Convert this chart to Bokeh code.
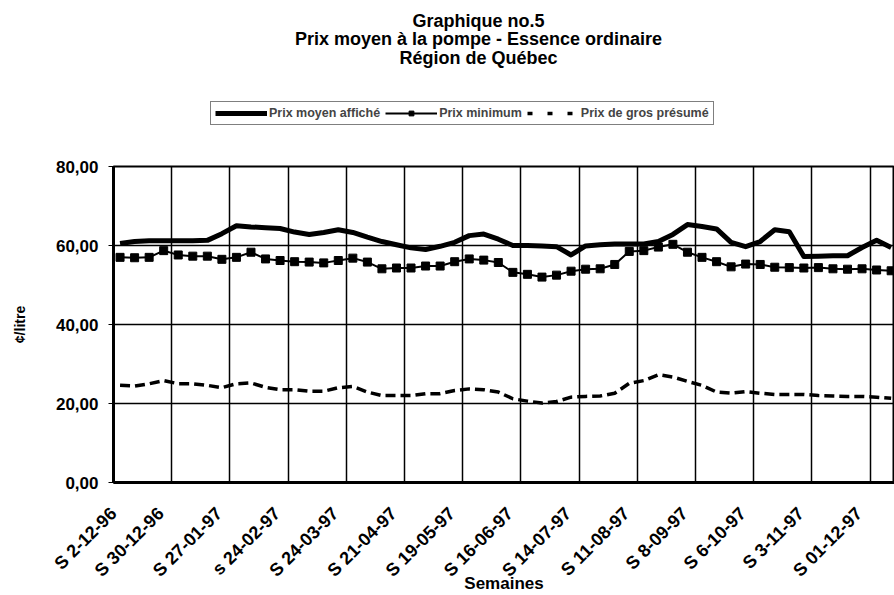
import math
from bokeh.plotting import figure
from bokeh.layouts import column
from bokeh.models import (Range1d, FixedTicker, Legend, LegendItem, Label)
from bokeh.embed import file_html
from bokeh.resources import INLINE

# ---- data (weekly, starting week of 2-12-96) ----
prix_moyen = [60.5, 61.0, 61.2, 61.2, 61.2, 61.2, 61.3, 63.0, 65.0, 64.7,
              64.5, 64.3, 63.4, 62.8, 63.3, 64.0, 63.3, 62.1, 61.0, 60.2,
              59.4, 59.0, 59.8, 60.8, 62.5, 62.9, 61.6, 60.0, 60.0, 59.9,
              59.7, 57.6, 59.9, 60.2, 60.4, 60.4, 60.4, 61.0, 62.8, 65.3,
              64.8, 64.2, 60.8, 59.7, 61.0, 64.0, 63.5, 57.2, 57.3, 57.4,
              57.4, 59.5, 61.3, 59.5]
prix_minimum = [57.0, 56.9, 57.0, 58.7, 57.6, 57.3, 57.3, 56.5, 57.0, 58.3,
                56.6, 56.2, 55.9, 55.8, 55.6, 56.2, 56.8, 55.8, 54.1, 54.3,
                54.3, 54.8, 54.8, 55.9, 56.6, 56.3, 55.7, 53.2, 52.7, 52.0,
                52.5, 53.5, 54.0, 54.1, 55.2, 58.5, 58.7, 59.6, 60.3, 58.3,
                57.0, 55.9, 54.6, 55.3, 55.2, 54.5, 54.4, 54.3, 54.4, 54.1,
                54.0, 54.1, 53.8, 53.6]
prix_gros = [24.6, 24.4, 25.0, 25.8, 25.0, 25.0, 24.6, 24.0, 25.0, 25.2,
             24.1, 23.5, 23.5, 23.1, 23.1, 24.0, 24.3, 22.9, 22.0, 22.0,
             22.0, 22.5, 22.5, 23.3, 23.7, 23.5, 22.9, 21.2, 20.6, 20.1,
             20.5, 21.6, 21.8, 21.9, 22.6, 25.1, 25.8, 27.3, 26.7, 25.6,
             24.6, 22.9, 22.6, 23.0, 22.6, 22.3, 22.3, 22.3, 22.0, 21.9,
             21.8, 21.8, 21.6, 21.3]
semaine_labels = ["S 2-12-96", "S 30-12-96", "S 27-01-97", "s 24-02-97",
                  "S 24-03-97", "S 21-04-97", "S 19-05-97", "S 16-06-97",
                  "S 14-07-97", "S 11-08-97", "S 8-09-97", "S 6-10-97",
                  "S 3-11-97", "S 01-12-97"]
y_ticks = [0, 20, 40, 60, 80]
y_tick_labels = ["0,00", "20,00", "40,00", "60,00", "80,00"]
titles = ["Graphique no.5", "Prix moyen à la pompe - Essence ordinaire",
          "Région de Québec"]
series_names = ["Prix moyen affiché", "Prix minimum", "Prix de gros présumé"]

FONT = "Liberation Sans"
W = 894
TOP_H = 158
LEFT = 113
n = len(prix_moyen)
offset = 0.45
xs = [k + offset for k in range(n)]
label_step = 4
x_ticks = [i * label_step for i in range(len(semaine_labels))]
# label anchors sit a little left of their gridline (first one kept at the
# frame edge, since Bokeh drops ticks outside the range)
label_shift = -0.75
label_ticks = [0] + [t + label_shift for t in x_ticks[1:]]

# ---------------- top area: titles + legend (page pixel coords) --------
top = figure(width=W, height=TOP_H, output_backend="svg",
             toolbar_location=None, x_range=Range1d(LEFT, W),
             y_range=Range1d(TOP_H, 0), x_axis_type=None, y_axis_type=None,
             min_border_left=LEFT, min_border_right=0, min_border_top=0,
             min_border_bottom=0)
top.outline_line_color = None
top.background_fill_color = "white"
top.border_fill_color = "white"

title_y = [20, 38.5, 57]
for t, ty in zip(titles, title_y):
    top.add_layout(Label(x=478, y=ty, text=t, text_align="center",
                         text_baseline="middle", text_font=FONT,
                         text_font_style="bold", text_font_size="18px",
                         text_color="black"))

# legend proxies (hidden) sharing the styles of the chart's series
d1 = top.line(xs, prix_moyen, line_color="black", line_width=5,
              visible=False)
d2l = top.line(xs, prix_minimum, line_color="black", line_width=2,
               visible=False)
d2s = top.scatter(xs, prix_minimum, marker="square", size=7,
                  fill_color="black", line_color="black", visible=False)
d3 = top.line(xs, prix_gros, line_color="black", line_width=3.5,
              line_dash="5 15", visible=False)
legend = Legend(items=[
    LegendItem(label=series_names[0], renderers=[d1]),
    LegendItem(label=series_names[1], renderers=[d2l, d2s]),
    LegendItem(label=series_names[2], renderers=[d3]),
], orientation="horizontal", location=(210 - LEFT, TOP_H - 125))
legend.border_line_color = "black"
legend.border_line_width = 1.5
legend.background_fill_color = "white"
legend.background_fill_alpha = 1
legend.label_text_font = FONT
legend.label_text_font_style = "bold"
legend.label_text_font_size = "12.5px"
legend.glyph_width = 52
legend.glyph_height = 12
legend.label_standoff = 2
legend.spacing = 5
legend.padding = 4
legend.margin = 0
top.add_layout(legend, "center")

# ---------------- main chart ----------------
p = figure(width=W, height=437, output_backend="svg", toolbar_location=None,
           x_range=Range1d(0, 53.68), y_range=Range1d(0, 80),
           min_border_left=LEFT, min_border_right=0,
           min_border_top=8, min_border_bottom=113)
p.background_fill_color = "white"
p.border_fill_color = "white"
p.outline_line_color = "black"
p.outline_line_width = 2

p.xgrid.ticker = FixedTicker(ticks=x_ticks)
p.xgrid.grid_line_color = "black"
p.xgrid.grid_line_width = 1.5
p.ygrid.grid_line_color = "black"
p.ygrid.grid_line_width = 1.5

xa = p.xaxis[0]
xa.ticker = FixedTicker(ticks=label_ticks)
xa.major_label_overrides = {t: l for t, l in zip(label_ticks, semaine_labels)}
xa.major_label_orientation = math.pi / 4
xa.axis_line_width = 3
xa.major_tick_line_color = None
xa.minor_tick_line_color = None
xa.major_tick_in = 0
xa.major_tick_out = 0
xa.major_label_standoff = 28
xa.major_label_text_font = FONT
xa.major_label_text_font_style = "bold"
xa.major_label_text_font_size = "18px"
xa.major_label_text_color = "black"
xa.axis_label = "Semaines"
xa.axis_label_text_font = FONT
xa.axis_label_text_font_style = "bold"
xa.axis_label_text_font_size = "17px"
xa.axis_label_text_color = "black"
xa.axis_label_standoff = -17

ya = p.yaxis[0]
ya.ticker = FixedTicker(ticks=y_ticks)
ya.major_label_overrides = {t: l for t, l in zip(y_ticks, y_tick_labels)}
ya.minor_tick_line_color = None
ya.major_tick_in = 0
ya.major_tick_out = 5
ya.major_label_standoff = 10
ya.axis_line_width = 3
ya.major_label_text_font = FONT
ya.major_label_text_font_style = "bold"
ya.major_label_text_font_size = "17px"
ya.major_label_text_color = "black"
ya.axis_label = "¢/litre"
ya.axis_label_text_font = FONT
ya.axis_label_text_font_style = "bold"
ya.axis_label_text_font_size = "14px"
ya.axis_label_text_color = "black"
ya.axis_label_standoff = 25

p.line(xs, prix_moyen, line_color="black", line_width=5, line_join="round")
p.line(xs, prix_minimum, line_color="black", line_width=2)
p.scatter(xs, prix_minimum, marker="square", size=8, fill_color="black",
          line_color="black")
p.line(xs, prix_gros, line_color="black", line_width=3.5, line_dash="10 5")

layout = column(top, p, spacing=0)
open("out.html", "w").write(file_html(layout, INLINE))
